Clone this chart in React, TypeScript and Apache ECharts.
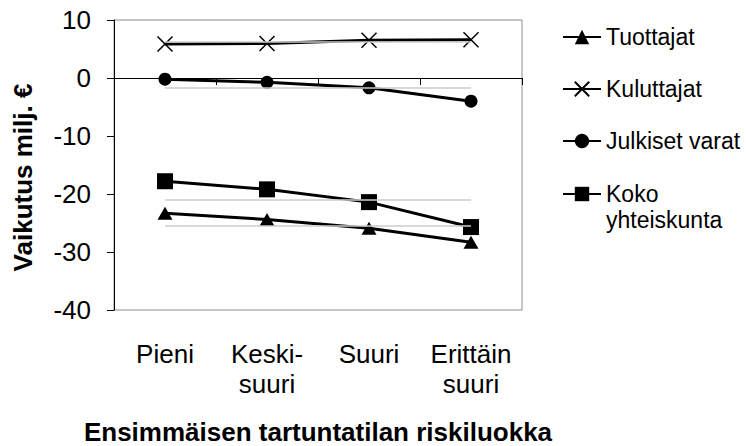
import React, { useEffect, useRef } from "react";
import * as echarts from "echarts";

const categories = ["Pieni", "Keski-\nsuuri", "Suuri", "Erittäin\nsuuri"];
const seriesNames = ["Tuottajat", "Kuluttajat", "Julkiset varat", "Koko yhteiskunta"];
const tuottajat = [-23.3, -24.4, -25.9, -28.3];
const kuluttajat = [5.85, 5.95, 6.5, 6.6];
const julkiset = [-0.2, -0.75, -1.7, -4.0];
const koko = [-17.8, -19.2, -21.4, -25.7];
const yTicks = { min: -40, max: 10, interval: 10 };
const yTitle = "Vaikutus milj. €";
const xTitle = "Ensimmäisen tartuntatilan riskiluokka";

const FONT = "'Liberation Sans', Arial, sans-serif";

const mean = (a: number[]) => a.reduce((s, v) => s + v, 0) / a.length;

export default function App() {
  const ref = useRef<HTMLDivElement>(null);
  useEffect(() => {
    if (!ref.current) return;
    const chart = echarts.init(ref.current, undefined, { renderer: "svg" });
    const avgLine = (vals: number[]) => ({
      silent: true,
      symbol: "none",
      label: { show: false },
      lineStyle: { color: "#cccccc", width: 1.5, type: "solid" },
      emphasis: { disabled: true },
      data: [[{ coord: [0, mean(vals)] }, { coord: [categories.length - 1, mean(vals)] }]],
    });
    const base = (name: string, data: number[], symbol: string, size: any, extraItem: any = {}) => ({
      name,
      type: "line",
      data,
      symbol,
      symbolSize: size,
      showSymbol: true,
      lineStyle: { color: "#000", width: 3 },
      itemStyle: { color: "#000", ...extraItem },
      markLine: avgLine(data),
      z: 3,
    });
    const legendText = { fontSize: 23, color: "#000", fontFamily: FONT, lineHeight: 26 };
    chart.setOption({
      animation: false,
      textStyle: { fontFamily: FONT },
      grid: {
        left: 114,
        right: 224,
        top: 20,
        bottom: 136,
        show: true,
        containLabel: false,
        outerBoundsMode: "none",
        borderColor: "#8c8c8c",
        borderWidth: 1,
        backgroundColor: "transparent",
      },
      legend: [
        {
          data: seriesNames.slice(0, 3),
          orient: "vertical",
          left: 562,
          top: 24,
          padding: 0,
          itemGap: 26,
          itemWidth: 38,
          itemHeight: 18,
          textStyle: legendText,
        },
        {
          data: seriesNames.slice(3),
          orient: "vertical",
          left: 562,
          top: 155,
          padding: 0,
          itemWidth: 38,
          itemHeight: 18,
          formatter: (n: string) => "\n" + n.replace(" ", "\n"),
          textStyle: legendText,
        },
      ],
      xAxis: [
        {
          type: "category",
          data: categories,
          position: "bottom",
          boundaryGap: true,
          axisLine: { show: false, onZero: false },
          axisTick: { show: false },
          axisLabel: {
            fontSize: 26,
            color: "#000",
            fontFamily: FONT,
            lineHeight: 30,
            margin: 29,
            interval: 0,
          },
          name: xTitle,
          nameLocation: "middle",
          nameGap: 109,
          nameTextStyle: {
            fontSize: 26,
            lineHeight: 26,
            fontWeight: "bold",
            color: "#000",
            fontFamily: FONT,
          },
        },
        {
          type: "category",
          data: categories,
          position: "top",
          boundaryGap: true,
          axisLine: { show: true, onZero: true, lineStyle: { color: "#000", width: 1 } },
          axisTick: { show: true, inside: true, length: 7, lineStyle: { color: "#000" } },
          axisLabel: { show: false },
        },
      ],
      yAxis: {
        type: "value",
        min: yTicks.min,
        max: yTicks.max,
        interval: yTicks.interval,
        splitLine: { show: false },
        axisLine: { show: true, lineStyle: { color: "#000", width: 1 } },
        axisTick: { show: true, length: 7, lineStyle: { color: "#000" } },
        axisLabel: { fontSize: 26, color: "#000", fontFamily: FONT, margin: 23 },
        name: yTitle,
        nameLocation: "middle",
        nameGap: 78,
        nameTextStyle: {
          fontSize: 26,
          fontWeight: "bold",
          color: "#000",
          fontFamily: FONT,
          padding: [0, 25, 0, 0],
        },
      },
      series: [
        base(seriesNames[0], tuottajat, "triangle", [15, 13]),
        base(seriesNames[1], kuluttajat, "path://M0,0L10,10M10,0L0,10", 15, {
          borderColor: "#000",
          borderWidth: 1.5,
        }),
        base(seriesNames[2], julkiset, "circle", 13),
        base(seriesNames[3], koko, "rect", 16),
      ],
    });
    return () => chart.dispose();
  }, []);
  return (
    <div
      ref={ref}
      style={{ position: "fixed", left: 0, top: 0, width: 746, height: 446, background: "#fff" }}
    />
  );
}
